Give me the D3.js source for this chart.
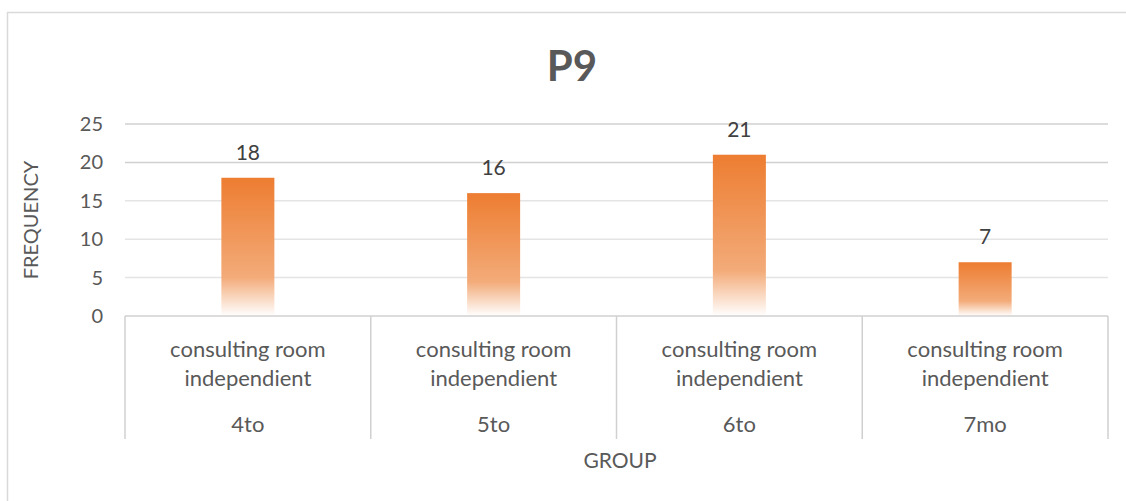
<!DOCTYPE html>
<html>
<head>
<meta charset="utf-8">
<script src="https://cdn.jsdelivr.net/npm/d3@7"></script>
<style>
  body { margin: 0; background: #fff; }
  svg { display: block; font-family: Lato, "Open Sans", sans-serif; }
</style>
</head>
<body>
<svg id="chart"></svg>
<script>
// Data
const groups = ["4to", "5to", "6to", "7mo"];
const subLabels = ["consulting room", "independient"];
const frequency = [18, 16, 21, 7];
const yTicks = [0, 5, 10, 15, 20, 25];

// Chart attributes
const chartAttr = {
    width: 1126,
    height: 501,
    left: 125,
    right: 1108,
    top: 124,
    bottom: 316,
    boxBottom: 439
};

const svg = d3.select("#chart")
    .attr("width", chartAttr.width)
    .attr("height", chartAttr.height);

// outer chart border
svg.append("rect")
    .attr("x", 7.5).attr("y", 12.5)
    .attr("width", 1130).attr("height", 500)
    .attr("fill", "none")
    .attr("stroke", "#d9d9d9")
    .attr("stroke-width", 1.5);

// gradient used by the bars
const grad = svg.append("defs").append("linearGradient")
    .attr("id", "barGrad")
    .attr("x1", 0).attr("y1", 0).attr("x2", 0).attr("y2", 1);
grad.append("stop").attr("offset", "0%").attr("stop-color", "#ED7D31");
grad.append("stop").attr("offset", "72%").attr("stop-color", "#F3AB79");
grad.append("stop").attr("offset", "100%").attr("stop-color", "#FFFFFF");

// scales
const yScale = d3.scaleLinear()
    .domain([0, 25])
    .range([chartAttr.bottom, chartAttr.top]);

const xBand = d3.scaleBand()
    .domain(groups)
    .range([chartAttr.left, chartAttr.right])
    .paddingInner(0)
    .paddingOuter(0);

const barWidth = 53;

// gridlines
svg.append("g")
    .selectAll("line")
    .data(yTicks.filter(d => d > 0))
    .enter()
    .append("line")
    .attr("x1", chartAttr.left)
    .attr("x2", chartAttr.right)
    .attr("y1", d => yScale(d))
    .attr("y2", d => yScale(d))
    .attr("stroke", d => d >= 20 ? "#d0d0d0" : "#e4e4e4")
    .attr("stroke-width", 1.5);

// y axis
const yAxis = d3.axisLeft(yScale)
    .tickValues(yTicks)
    .tickSize(0)
    .tickPadding(0);

const yG = svg.append("g")
    .attr("transform", "translate(103,0)")
    .call(yAxis);
yG.select(".domain").remove();
yG.selectAll("text")
    .attr("fill", "#595959")
    .style("font-size", "20px")
    .attr("font-family", "Lato, sans-serif");

// bars
svg.append("g")
    .selectAll("rect")
    .data(frequency)
    .enter()
    .append("rect")
    .attr("x", (d, i) => xBand(groups[i]) + xBand.bandwidth() / 2 - barWidth / 2)
    .attr("y", d => yScale(d))
    .attr("width", barWidth)
    .attr("height", d => chartAttr.bottom - yScale(d))
    .attr("fill", "url(#barGrad)");

// value labels
svg.append("g")
    .selectAll("text")
    .data(frequency)
    .enter()
    .append("text")
    .attr("x", (d, i) => xBand(groups[i]) + xBand.bandwidth() / 2)
    .attr("y", d => yScale(d) - 18)
    .attr("text-anchor", "middle")
    .attr("fill", "#404040")
    .style("font-size", "21px")
    .text(d => d);

// x axis: baseline and category box separators
svg.append("line")
    .attr("x1", chartAttr.left).attr("x2", chartAttr.right)
    .attr("y1", chartAttr.bottom).attr("y2", chartAttr.bottom)
    .attr("stroke", "#d0d0d0").attr("stroke-width", 1.5);

const seps = groups.map(g => xBand(g)).concat([chartAttr.right]);
svg.append("g")
    .selectAll("line")
    .data(seps)
    .enter()
    .append("line")
    .attr("x1", d => d).attr("x2", d => d)
    .attr("y1", chartAttr.bottom)
    .attr("y2", chartAttr.boxBottom)
    .attr("stroke", "#d0d0d0")
    .attr("stroke-width", 1.5);

// category labels
const cat = svg.append("g")
    .selectAll("g")
    .data(groups)
    .enter()
    .append("g")
    .attr("transform", d => "translate(" + (xBand(d) + xBand.bandwidth() / 2) + ",0)");

subLabels.forEach((s, k) => {
    cat.append("text")
        .attr("y", 357 + k * 29)
        .attr("text-anchor", "middle")
        .attr("fill", "#595959")
        .style("font-size", "22px")
        .text(s);
});

cat.append("text")
    .attr("y", 432)
    .attr("text-anchor", "middle")
    .attr("fill", "#595959")
    .style("font-size", "22px")
    .text(d => d);

// title
svg.append("text")
    .attr("x", 572)
    .attr("y", 81)
    .attr("text-anchor", "middle")
    .attr("fill", "#595959")
    .style("font-size", "42px")
    .style("font-weight", "bold")
    .text("P9");

// axis titles
svg.append("text")
    .attr("x", 620)
    .attr("y", 468)
    .attr("text-anchor", "middle")
    .attr("fill", "#595959")
    .style("font-size", "21px")
    .text("GROUP");

svg.append("text")
    .attr("transform", "translate(38," + ((chartAttr.top + chartAttr.bottom) / 2) + ") rotate(-90)")
    .attr("text-anchor", "middle")
    .attr("fill", "#595959")
    .style("font-size", "20px")
    .text("FREQUENCY");
</script>
</body>
</html>
